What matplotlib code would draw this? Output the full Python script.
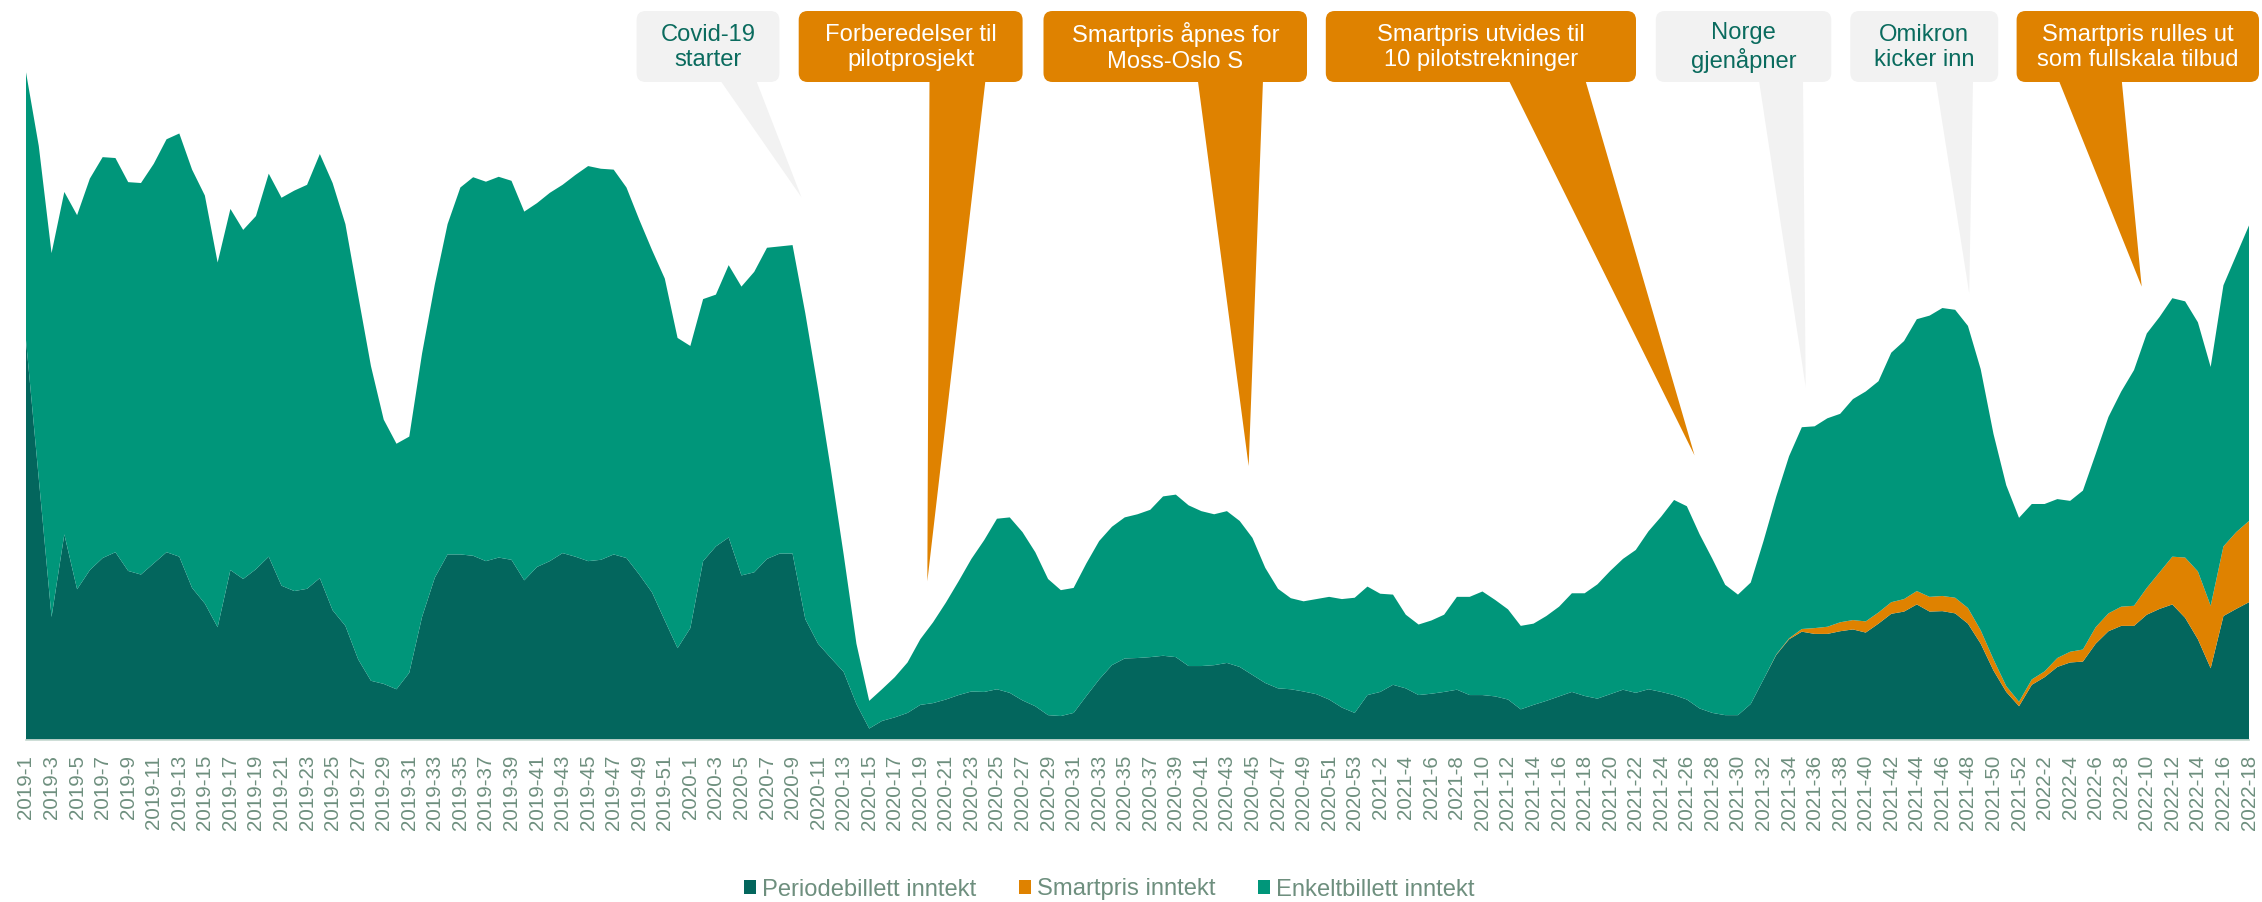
import matplotlib
matplotlib.use('Agg')
import matplotlib.pyplot as plt
import numpy as np
from matplotlib.patches import FancyBboxPatch, Polygon, Patch

plt.rcParams['font.family'] = ['Liberation Sans', 'DejaVu Sans']

# ---------------- data ----------------
weeks = ([f'2019-{w}' for w in range(1, 53)] + [f'2020-{w}' for w in range(1, 54)] +
         [f'2021-{w}' for w in range(1, 53)] + [f'2022-{w}' for w in range(1, 19)])

periode = [
    895, 585, 275, 460, 337, 380, 407, 420, 378, 370, 395, 420, 410, 340, 305, 252, 380, 360, 382, 410,
    345, 333, 338, 362, 290, 255, 180, 132, 125, 113, 150, 275, 363, 415, 415, 412, 400, 408, 403, 357,
    387, 400, 418, 410, 400, 403, 415, 407, 370, 330, 267, 205, 250, 400, 433, 453, 368, 375, 405, 417,
    417, 270, 215, 183, 152, 80, 25, 42, 50, 60, 78, 82, 90, 100, 108, 107, 113, 105, 88, 75,
    55, 53, 60, 98, 135, 167, 182, 183, 185, 188, 185, 165, 165, 167, 172, 163, 145, 127, 115, 113,
    108, 102, 90, 72, 60, 100, 107, 123, 115, 100, 103, 107, 112, 100, 100, 97, 90, 68, 78, 87,
    97, 107, 98, 92, 102, 112, 105, 113, 107, 100, 90, 70, 60, 55, 55, 80, 135, 190, 225, 242,
    237, 237, 243, 247, 240, 260, 282, 287, 303, 287, 288, 283, 260, 215, 155, 107, 75, 123, 140, 163,
    173, 175, 215, 243, 255, 255, 280, 293, 303, 273, 225, 160, 277, 293, 308,
]

smartpris = [0] * 137 + [
    1, 2, 6, 13, 16, 20, 21, 25, 25, 26, 28, 30, 33, 34, 35, 35, 30, 25, 13, 10,
    12, 13, 20, 24, 27, 37, 40, 43, 45, 60, 82, 107, 135, 152, 140, 156, 172, 182,
]

enkelt = [
    600, 745, 815, 767, 838, 877, 898, 883, 871, 877, 895, 925, 948, 937, 914, 817, 809, 782, 791, 858,
    869, 897, 905, 950, 957, 900, 815, 705, 592, 550, 529, 590, 657, 740, 822, 848, 850, 853, 849, 826,
    815, 825, 825, 855, 885, 876, 862, 830, 795, 767, 766, 695, 632, 587, 564, 610, 647, 673, 697, 688,
    691, 685, 570, 422, 263, 135, 62, 71, 90, 113, 147, 181, 217, 255, 297, 340, 382, 393, 377, 345,
    305, 282, 280, 297, 310, 310, 316, 322, 330, 357, 364, 360, 347, 338, 340, 327, 307, 258, 223, 204,
    202, 213, 230, 243, 258, 243, 220, 202, 165, 158, 164, 173, 208, 220, 232, 216, 202, 187, 182, 190,
    201, 221, 230, 256, 276, 293, 320, 354, 393, 437, 433, 390, 345, 292, 270, 272, 310, 354, 408, 452,
    452, 467, 467, 495, 515, 518, 559, 578, 609, 630, 645, 645, 632, 585, 505, 450, 412, 393, 375, 356,
    338, 356, 388, 440, 482, 528, 570, 572, 579, 574, 558, 535, 585, 620, 662,
]

series_labels = ['Periodebillett inntekt', 'Smartpris inntekt', 'Enkeltbillett inntekt']

# annotations: text, kind, tip (week index, value)
ann_texts = ['Covid-19\nstarter', 'Forberedelser til\npilotprosjekt', 'Smartpris åpnes for\nMoss-Oslo S',
             'Smartpris utvides til\n10 pilotstrekninger', 'Norge\ngjenåpner', 'Omikron\nkicker inn',
             'Smartpris rulles ut\nsom fullskala tilbud']
ann_kind = ['event', 'smart', 'smart', 'smart', 'event', 'event', 'smart']
ann_tip = [(60.7, 1215), (70.55, 355), (95.7, 613), (130.6, 637), (139.3, 790), (152.1, 1000), (165.6, 1015)]

# ---------------- style / layout ----------------
C_PER = '#03665D'
C_SMART = '#DF8200'
C_ENK = '#00967A'
C_GRAY = '#F2F2F2'
C_TXT = '#0A6B5E'
C_TICK = '#6E8F7E'

W, H = 2262, 902
fig = plt.figure(figsize=(W / 100, H / 100), dpi=100)
ax = fig.add_axes([26 / W, 1 - 739.7 / H, (2249 - 26) / W, 689.7 / H])

x = np.arange(len(weeks))
ax.stackplot(x, periode, smartpris, enkelt, colors=[C_PER, C_SMART, C_ENK],
             labels=series_labels, linewidth=0)
ax.set_xlim(0, len(weeks) - 1)
ax.set_ylim(0, 1545)
ax.set_xticks(x[::2])
ax.set_xticklabels(weeks[::2], rotation=90, fontsize=14.8, color=C_TICK, va='top')
ax.tick_params(axis='x', length=0, pad=11)
ax.set_yticks([])
for s in ['top', 'right', 'left']:
    ax.spines[s].set_visible(False)
ax.spines['bottom'].set_color('#C5D8D0')
ax.spines['bottom'].set_linewidth(1.2)

# overlay in pixel coordinates for the callouts
ov = fig.add_axes([0, 0, 1, 1], zorder=5)
ov.set_xlim(0, W)
ov.set_ylim(H, 0)
ov.axis('off')
ov.patch.set_alpha(0)

box_x = [(636.6, 779.4), (798.7, 1022.6), (1043.5, 1307), (1325.8, 1636), (1655.8, 1831.3),
         (1850.3, 1998.2), (2016.6, 2259)]
base_x = [(720, 756), (929.5, 985.5), (1197.8, 1263), (1508.6, 1585.3), (1758.9, 1803),
          (1935.6, 1973), (2058.6, 2121.7)]
box_top, box_bot = 11, 82

to_ov = ov.transData.inverted()
for txt, kind, tip, bx, bs in zip(ann_texts, ann_kind, ann_tip, box_x, base_x):
    fc = C_SMART if kind == 'smart' else C_GRAY
    tc = 'white' if kind == 'smart' else C_TXT
    tx, ty = to_ov.transform(ax.transData.transform(tip))
    ov.add_patch(Polygon([(bs[0], box_bot - 2), (bs[1], box_bot - 2), (tx, ty)],
                         closed=True, facecolor=fc, edgecolor='none', zorder=2))
    ov.add_patch(FancyBboxPatch((bx[0], box_top), bx[1] - bx[0], box_bot - box_top,
                                boxstyle='round,pad=0,rounding_size=9',
                                facecolor=fc, edgecolor='none', zorder=3))
    ov.text((bx[0] + bx[1]) / 2, (box_top + box_bot) / 2 + 1, txt, ha='center', va='center',
            fontsize=17.1, color=tc, linespacing=1.2, zorder=4)

handles = [Patch(facecolor=c, edgecolor='none', label=l)
           for c, l in zip([C_PER, C_SMART, C_ENK], series_labels)]
fig.legend(handles=handles, loc='center', bbox_to_anchor=(1109 / W, 1 - 889.5 / H), ncol=3,
           frameon=False, fontsize=17.1, handlelength=0.53, handleheight=0.53,
           handletextpad=0.23, columnspacing=1.8, labelcolor=C_TICK, borderpad=0,
           borderaxespad=0)

fig.savefig('out.png', dpi=100)
